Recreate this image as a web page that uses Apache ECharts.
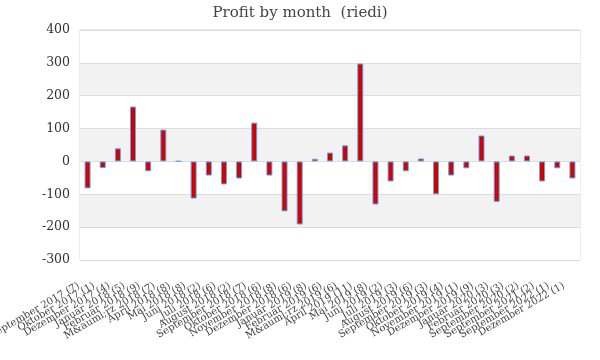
<!DOCTYPE html>
<html><head><meta charset="utf-8">
<script src="https://cdn.jsdelivr.net/npm/echarts@6/dist/echarts.min.js"></script>
<style>html,body{margin:0;padding:0;background:#fff}#c{width:600px;height:360px}</style>
</head><body><div id="c"></div>
<script>
var categories = ["September 2017 (7)","Oktober 2017 (1)","Dezember 2017 (4)","Januar 2018 (5)","Februar 2018 (9)","M&auml;rz 2018 (7)","April 2018 (8)","Mai 2018 (8)","Juni 2018 (2)","Juli 2018 (6)","August 2018 (2)","September 2018 (7)","Oktober 2018 (6)","November 2018 (8)","Dezember 2018 (6)","Januar 2019 (8)","Februar 2019 (6)","M&auml;rz 2019 (6)","April 2019 (11)","Mai 2019 (8)","Juni 2019 (2)","Juli 2019 (3)","August 2019 (6)","September 2019 (3)","Oktober 2019 (4)","November 2019 (1)","Dezember 2019 (9)","Januar 2020 (3)","Februar 2020 (3)","September 2020 (2)","September 2021 (2)","September 2022 (1)","Dezember 2022 (1)"];
var profit = [-82,-20,40,167,-30,97,1,-113,-43,-70,-52,118,-43,-152,-192,8,27,49,298,-131,-61,-30,9,-100,-43,-21,79,-123,18,18,-61,-21,-52];
var yTicks = {min:-300, max:400, interval:100};
var title = "Profit by month  (riedi)";

var chart = echarts.init(document.getElementById('c'));
chart.setOption({
  animation:false,
  title:{text:title,left:'center',top:1,textStyle:{fontFamily:'DejaVu Serif',fontWeight:'normal',fontSize:15,color:'#444'}},
  grid:{left:80,right:20,top:30,bottom:100,containLabel:false,outerBoundsMode:'none',show:true,borderColor:'#d9d9d9',borderWidth:1,backgroundColor:'transparent'},
  xAxis:{type:'category',data:categories,boundaryGap:true,
    axisLine:{show:false},axisTick:{show:false},
    axisLabel:{interval:0,rotate:30,fontFamily:'DejaVu Serif',fontSize:10,color:'#444',margin:20,padding:[0,10,0,0]}},
  yAxis:{type:'value',min:yTicks.min,max:yTicks.max,interval:yTicks.interval,
    axisLine:{show:false},axisTick:{show:false},
    axisLabel:{fontFamily:'DejaVu Serif',fontSize:12.5,color:'#333',margin:10},
    splitLine:{lineStyle:{color:'#dcdcdc'}},
    splitArea:{show:true,areaStyle:{color:['#ffffff','#f2f2f2']}}},
  series:[{type:'bar',data:profit,barWidth:6,
    itemStyle:{borderColor:'#62a6ef',borderWidth:1,
      color:new echarts.graphic.LinearGradient(0,0,1,0,[{offset:0,color:'#a00000'},{offset:0.5,color:'#e60000'},{offset:1,color:'#a00000'}])}}]
});
</script></body></html>
